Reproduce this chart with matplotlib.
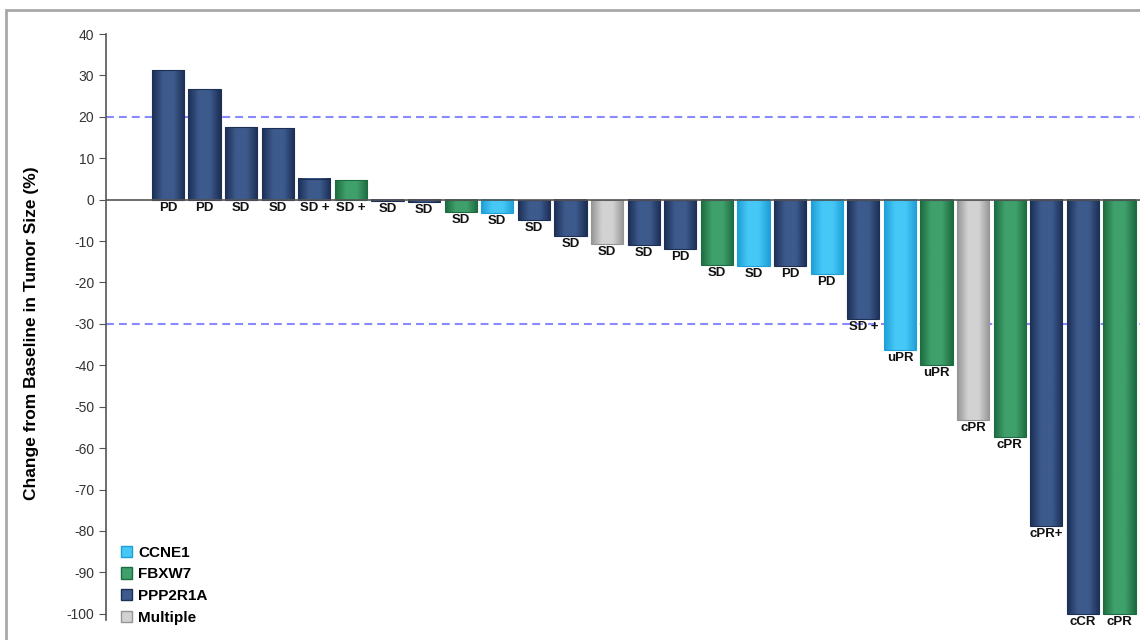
import matplotlib.pyplot as plt
import numpy as np
from matplotlib.colors import LinearSegmentedColormap
from matplotlib.patches import Patch, Rectangle

# percent change from baseline, one bar per patient
change = [31.2, 26.6, 17.6, 17.2, 5.1, 4.8, -0.3, -0.6, -3.0, -3.3, -4.8, -8.7,
          -10.6, -11.0, -11.8, -15.7, -16.0, -16.0, -17.9, -28.9, -36.4, -39.9,
          -53.1, -57.2, -78.9, -100.0, -100.0]
response = ['PD', 'PD', 'SD', 'SD', 'SD +', 'SD +', 'SD', 'SD', 'SD', 'SD', 'SD',
            'SD', 'SD', 'SD', 'PD', 'SD', 'SD', 'PD', 'PD', 'SD +', 'uPR', 'uPR',
            'cPR', 'cPR', 'cPR+', 'cCR', 'cPR']
gene = ['PPP2R1A', 'PPP2R1A', 'PPP2R1A', 'PPP2R1A', 'PPP2R1A', 'FBXW7',
        'PPP2R1A', 'PPP2R1A', 'FBXW7', 'CCNE1', 'PPP2R1A', 'PPP2R1A', 'Multiple',
        'PPP2R1A', 'PPP2R1A', 'FBXW7', 'CCNE1', 'PPP2R1A', 'CCNE1', 'PPP2R1A',
        'CCNE1', 'FBXW7', 'Multiple', 'FBXW7', 'PPP2R1A', 'PPP2R1A', 'FBXW7']
groups = ['CCNE1', 'FBXW7', 'PPP2R1A', 'Multiple']
thresholds = [20, -30]

# (edge, middle) shades for the bar gradient
shades = {
    'CCNE1': ('#1e9fd6', '#45c8f6'),
    'FBXW7': ('#1d6b40', '#3fa06b'),
    'PPP2R1A': ('#1c2f55', '#3d5a8c'),
    'Multiple': ('#959595', '#d2d2d2'),
}

plt.rcParams['font.family'] = ['Liberation Sans', 'DejaVu Sans']
plt.rcParams['axes.unicode_minus'] = False

fig = plt.figure(figsize=(11.4, 6.4), dpi=100)
fig.patches.append(Rectangle((6 / 1140, -0.1), 1.2, 1.1 - 10 / 640,
                             transform=fig.transFigure, fill=False,
                             edgecolor='#a8a8a8', lw=2, zorder=0))
ax = fig.add_axes([106 / 1140, 1 - 620 / 640, 1 - 106 / 1140, 586 / 640])
ax.patch.set_alpha(0)

x = np.arange(len(change))
bars = ax.bar(x, change, 0.88, color='none', zorder=3)

grad = np.linspace(0, 1, 64).reshape(1, -1)
for rect, g in zip(bars, gene):
    dark, mid = shades[g]
    cmap = LinearSegmentedColormap.from_list(g, [dark, mid, mid, dark])
    x0, w = rect.get_x(), rect.get_width()
    y0, h = rect.get_y(), rect.get_height()
    ax.imshow(grad, cmap=cmap, extent=(x0, x0 + w, min(y0, y0 + h), max(y0, y0 + h)),
              aspect='auto', zorder=2, interpolation='bilinear')
    rect.set_edgecolor(dark)
    rect.set_linewidth(0.8)

for xi, v, lab in zip(x, change, response):
    ax.annotate(lab, (xi, min(v, 0)), xytext=(0, -1.5), textcoords='offset points',
                ha='center', va='top', fontsize=9.5, fontweight='bold', color='#111111',
                zorder=4)

for t in thresholds:
    ax.axhline(t, color='#8a8aff', lw=1.5, dashes=(3.8, 2.4), zorder=1)
ax.axhline(0, color='#555555', lw=1.2, zorder=4)

ax.set_xlim(-1.69, 26.56)
ax.set_ylim(-101.5, 40)
ax.set_yticks(np.arange(-100, 41, 10))
ax.set_xticks([])
for s in ['top', 'right', 'bottom']:
    ax.spines[s].set_visible(False)
ax.spines['left'].set_color('#555555')
ax.spines['left'].set_linewidth(1.2)
ax.tick_params(axis='y', length=5, color='#555555', labelsize=10, labelcolor='#333333')

fig.text(32 / 1140, 1 - 333 / 640, 'Change from Baseline in Tumor Size (%)',
         rotation=90, ha='center', va='center', fontsize=12.5, fontweight='bold')

handles = [Patch(facecolor=shades[g][1], edgecolor=shades[g][0], label=g) for g in groups]
ax.legend(handles=handles, loc='lower left', bbox_to_anchor=(0.004, -0.026),
          frameon=False, handlelength=0.75, handleheight=0.75, handletextpad=0.4,
          labelspacing=0.5, borderpad=0.2,
          prop={'size': 11, 'weight': 'bold'})

fig.savefig('out.png', dpi=100)
